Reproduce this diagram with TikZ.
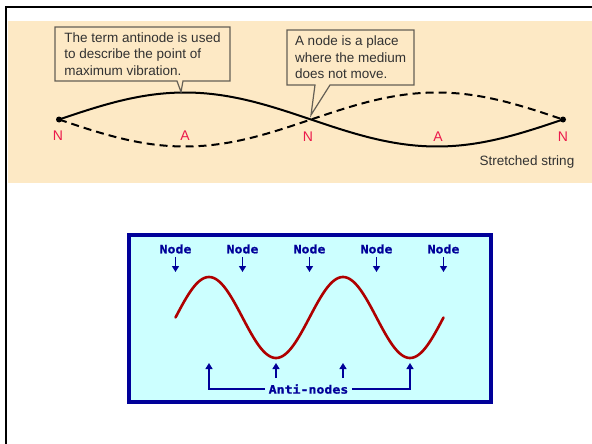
\documentclass[tikz,border=0pt]{standalone}
\usepackage{fontspec}
\setmainfont{Liberation Sans}
\newfontfamily\pixfont[FakeStretch=1.15, FakeBold=1.2]{DejaVu Sans Mono}
\usetikzlibrary{positioning, arrows.meta, calc}

\definecolor{paper}{RGB}{253,233,197}
\definecolor{panel}{RGB}{204,255,255}
\definecolor{navy}{RGB}{0,0,153}
\definecolor{wavered}{RGB}{175,0,0}
\definecolor{markred}{RGB}{235,25,75}
\definecolor{boxline}{RGB}{100,95,85}
\definecolor{inkgray}{RGB}{50,50,50}

\begin{document}
\begin{tikzpicture}[
    x=1pt, y=-1pt,
    font=\fontsize{13.5}{16.5}\selectfont,
    callout/.style={
        rectangle, anchor=north west,
        inner xsep=8pt, inner ysep=0pt, outer sep=0pt,
        align=left, text=inkgray,
    },
    callline/.style={draw=boxline, line width=1.2pt, line join=miter},
    string/.style={line width=2pt},
    strdash/.style={string, dash pattern=on 8pt off 5pt},
    endpt/.style={circle, fill=black, inner sep=0pt, minimum size=6pt},
    nlabel/.style={text=markred, inner sep=1pt, font=\fontsize{14}{16}\selectfont},
    tag/.style={font=\pixfont\bfseries\fontsize{11.5}{13}\selectfont, text=navy},
    pointer/.style={-{Triangle[length=6pt, width=7pt]}, draw=navy, line width=1.4pt},
    wave/.style={draw=wavered, line width=2.6pt, line cap=round, line join=round},
]
\useasboundingbox (0,0) rectangle (592,444);

% --- Frame and paper band ---
\fill[white] (0,0) rectangle (592,444);
\draw[line width=2pt] (6,444) -- (6,7) -- (592,7);
\fill[paper] (8,21) rectangle (592,183);

% --- Stretched string ---
\draw[string] plot[domain=59:563, samples=120] (\x, {119.5 - 27*sin((\x-59)/252*180)});
\draw[strdash] plot[domain=59:563, samples=120] (\x, {119.5 + 27*sin((\x-59)/252*180)});
\node[endpt] (nleft)  at (59,119.5)  {};
\node[endpt] (nright) at (563,119.5) {};

\node[nlabel] (n1) at (58,136)  {N};
\node[nlabel] (n2) at (308,137) {N};
\node[nlabel] (n3) at (563,137) {N};
\node[nlabel] (a1) at (185,136) {A};
\node[nlabel] (a2) at (438,137) {A};

\node[text=inkgray] (strlabel) at (527,162) {Stretched string};

% --- Callouts ---
\coordinate (tipA) at (181,92);
\coordinate (tipN) at (311,115);

\node[callout, minimum width=175pt, minimum height=54pt] (antitext) at (55,27)
    {The term antinode is used\\to describe the point of\\maximum vibration.};
\draw[callline] ([xshift=122pt]antitext.south west) -- (tipA)
    -- ([xshift=128pt]antitext.south west) -- (antitext.south east)
    -- (antitext.north east) -- (antitext.north west) -- (antitext.south west) -- cycle;

\node[callout, minimum width=126pt, minimum height=55pt] (nodetext) at (287,30)
    {A node is a place\\where the medium\\does not move.};
\draw[callline] ([xshift=28pt]nodetext.south west) -- (tipN)
    -- ([xshift=43pt]nodetext.south west) -- (nodetext.south east)
    -- (nodetext.north east) -- (nodetext.north west) -- (nodetext.south west) -- cycle;

% --- Standing wave panel ---
\draw[draw=navy, line width=4pt, fill=panel] (129,235) rectangle (491,402);
\draw[wave] plot[domain=175.5:443.5, samples=160] (\x, {317.5 - 40.5*sin((\x-175.5)/134*360)});

\foreach \i/\xx in {1/175.5, 2/242.5, 3/309.5, 4/376.5, 5/443.5}{
    \node[tag] (tag\i) at (\xx,249) {Node};
    \coordinate (nd\i) at (\xx,272);
    \draw[pointer] (tag\i) -- (nd\i);
}

\node[tag] (anti) at (308.5,389) {Anti-nodes};
\coordinate (an1) at (209,363);
\coordinate (an2) at (276,363);
\coordinate (an3) at (343,363);
\coordinate (an4) at (410,363);
\coordinate (bn2) at (276,378);
\coordinate (bn3) at (343,378);
\draw[pointer] (anti.west) -| (an1);
\draw[pointer] (anti.east) -| (an4);
\draw[pointer] (bn2) -- (an2);
\draw[pointer] (bn3) -- (an3);

\end{tikzpicture}
\end{document}
